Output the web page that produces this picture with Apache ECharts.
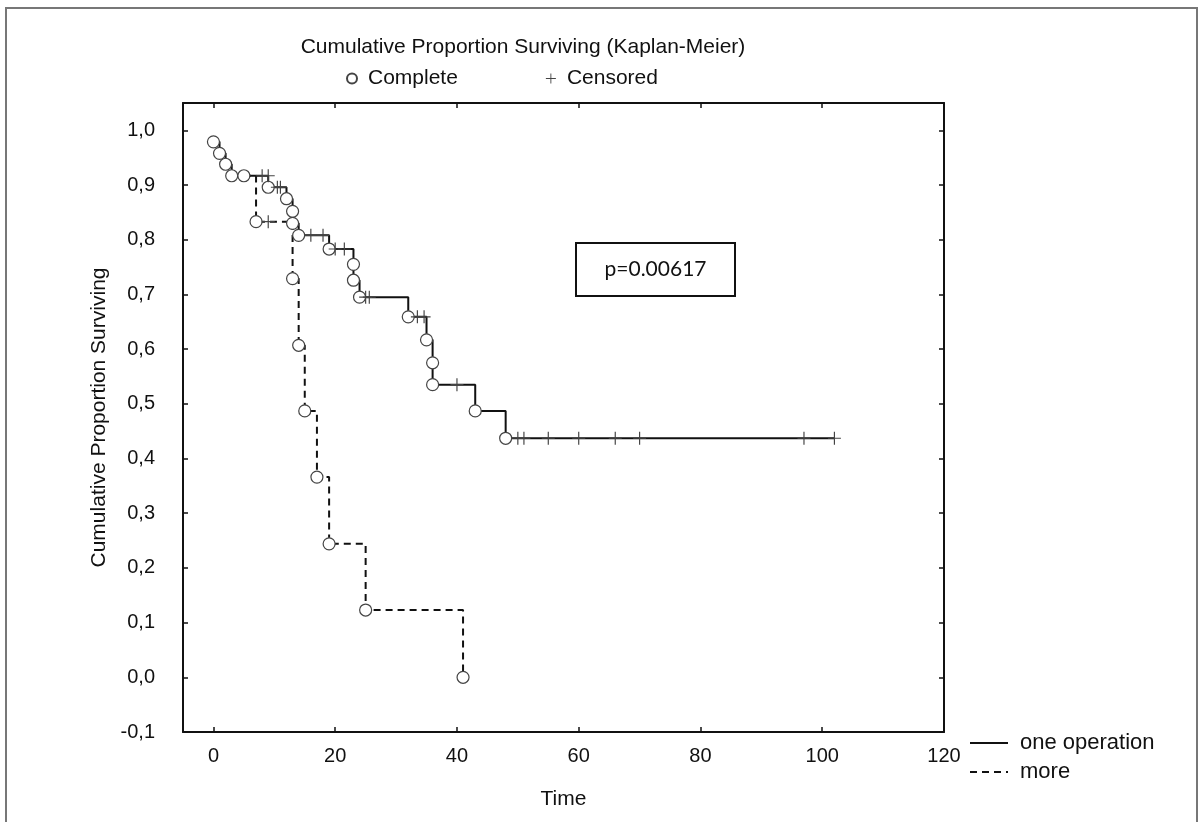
<!DOCTYPE html>
<html>
<head>
<meta charset="utf-8">
<script src="https://cdn.jsdelivr.net/npm/echarts@6/dist/echarts.min.js"></script>
<style>
  html, body { margin: 0; padding: 0; background: #fff; }
  #main { width: 1203px; height: 822px; }
</style>
</head>
<body>
<div id="main"></div>
<script>
// one operation: complete (circle) and censored (+) observations [time, proportion]
const oneEvents = [[0, 0.979], [1, 0.958], [2, 0.938], [3, 0.917], [9, 0.896], [12, 0.875], [13, 0.852], [13, 0.830],
  [14, 0.808], [19, 0.783], [23, 0.755], [23, 0.726], [24, 0.695], [32, 0.659], [35, 0.617], [36, 0.575], [36, 0.535],
  [43, 0.487], [48, 0.437]]
const oneCensored = [[8, 0.917], [9, 0.917], [10.5, 0.896], [11, 0.896], [16, 0.808], [18, 0.808], [20, 0.783],
  [21.5, 0.783], [25, 0.695], [25.6, 0.695], [33.5, 0.659], [34.6, 0.659], [40, 0.535], [50, 0.437], [51, 0.437],
  [55, 0.437], [60, 0.437], [66, 0.437], [70, 0.437], [97, 0.437], [102, 0.437]]

// more operations
const moreEvents = [[5, 0.917], [7, 0.833], [13, 0.729], [14, 0.607], [15, 0.487], [17, 0.366], [19, 0.244],
  [25, 0.123], [41, 0]]
const moreCensored = [[9, 0.833]]

const xTicks = [0, 20, 40, 60, 80, 100, 120]
const yTicks = [-0.1, 0, 0.1, 0.2, 0.3, 0.4, 0.5, 0.6, 0.7, 0.8, 0.9, 1.0]

const font = "'Liberation Sans', Arial, sans-serif"
const ink = "#111"

// step line goes through every observation, sorted by time (higher level first on ties)
const steps = (ev, cen) => ev.concat(cen).sort((a, b) => a[0] - b[0] || b[1] - a[1])

const plusIcon = "path://M-0.09,-1H0.09V-0.09H1V0.09H0.09V1H-0.09V0.09H-1V-0.09H-0.09Z"

const tickStyle = { color: ink, width: 1.5 }
const frameAxis = (extra) => Object.assign({
  type: "value",
  axisLine: { show: true, onZero: false, lineStyle: { color: ink, width: 2 } },
  splitLine: { show: false }
}, extra)

const options = {
  animation: false,
  textStyle: { fontFamily: font },
  title: {
    text: "Cumulative Proportion Surviving (Kaplan-Meier)",
    left: 518, top: 32, textAlign: "center",
    textStyle: { fontFamily: font, fontSize: 21, fontWeight: "normal", color: ink }
  },
  legend: [
    {
      data: ["Complete", "Censored"],
      left: 341, top: 63,
      itemWidth: 10, itemHeight: 10, itemGap: 88,
      textStyle: { fontFamily: font, fontSize: 21, color: ink, padding: [0, 0, 0, 6] }
    },
    {
      data: ["one operation", "more"],
      orient: "vertical",
      left: 964, top: 727,
      itemWidth: 38, itemHeight: 14, itemGap: 7,
      itemStyle: { opacity: 0 },
      textStyle: { fontFamily: font, fontSize: 22, color: ink, padding: [0, 0, 0, 7] }
    }
  ],
  grid: { left: 183, right: 259, top: 103, bottom: 90, containLabel: false },
  xAxis: [
    frameAxis({
      min: -5, max: 120, position: "bottom",
      axisTick: { show: true, inside: true, length: 5, customValues: xTicks, lineStyle: tickStyle },
      axisLabel: { customValues: xTicks, fontFamily: font, fontSize: 20, color: ink, margin: 14 },
      name: "Time", nameLocation: "middle", nameGap: 57,
      nameTextStyle: { fontFamily: font, fontSize: 21, color: ink }
    }),
    frameAxis({
      min: -5, max: 120, position: "top",
      axisTick: { show: true, inside: true, length: 5, customValues: xTicks, lineStyle: tickStyle },
      axisLabel: { show: false }
    })
  ],
  yAxis: [
    frameAxis({
      min: -0.1, max: 1.05, position: "left",
      axisTick: { show: true, inside: true, length: 5, customValues: yTicks, lineStyle: tickStyle },
      axisLabel: {
        customValues: yTicks, fontFamily: font, fontSize: 20, color: ink, margin: 28,
        formatter: v => v.toFixed(1).replace(".", ",")
      },
      name: "Cumulative Proportion Surviving", nameLocation: "middle", nameGap: 66, nameRotate: 90,
      nameTextStyle: { fontFamily: font, fontSize: 21, color: ink }
    }),
    frameAxis({
      min: -0.1, max: 1.05, position: "right",
      axisTick: { show: true, inside: true, length: 5, customValues: yTicks, lineStyle: tickStyle },
      axisLabel: { show: false }
    })
  ],
  series: [
    {
      name: "one operation", type: "line", step: "end",
      data: steps(oneEvents, oneCensored),
      symbol: "none", z: 2,
      lineStyle: { color: ink, width: 2 },
      itemStyle: { color: ink }
    },
    {
      name: "more", type: "line", step: "end",
      data: steps(moreEvents, moreCensored),
      symbol: "none", z: 2,
      lineStyle: { color: ink, width: 2, type: [7, 5] },
      itemStyle: { color: ink }
    },
    {
      name: "Complete", type: "scatter",
      data: oneEvents.concat(moreEvents),
      symbol: "circle", symbolSize: 12, z: 3,
      itemStyle: { color: "#fff", borderColor: "#444", borderWidth: 1.2, opacity: 1 }
    },
    {
      name: "Censored", type: "scatter",
      data: oneCensored.concat(moreCensored),
      symbol: plusIcon, symbolSize: 13, z: 3,
      itemStyle: { color: "#444", opacity: 1 }
    }
  ],
  graphic: [
    // page frame
    { type: "polyline", shape: { points: [[6, 822], [6, 8], [1197, 8], [1197, 822]] },
      style: { stroke: "#777", lineWidth: 2, fill: null }, silent: true },
    // p-value box
    { type: "rect", shape: { x: 576, y: 243, width: 159, height: 53 },
      style: { fill: "#fff", stroke: ink, lineWidth: 2 }, z: 10 },
    { type: "text", x: 655.5, y: 269.5, z: 11,
      style: { text: "p=0.00617", font: "21px Lato, 'Open Sans', sans-serif", fill: ink,
        textAlign: "center", textVerticalAlign: "middle" } }
  ]
}

const chartContainer = document.getElementById("main")
const myChart = echarts.init(chartContainer)
myChart.setOption(options)
window.onresize = () => myChart.resize()
</script>
</body>
</html>
